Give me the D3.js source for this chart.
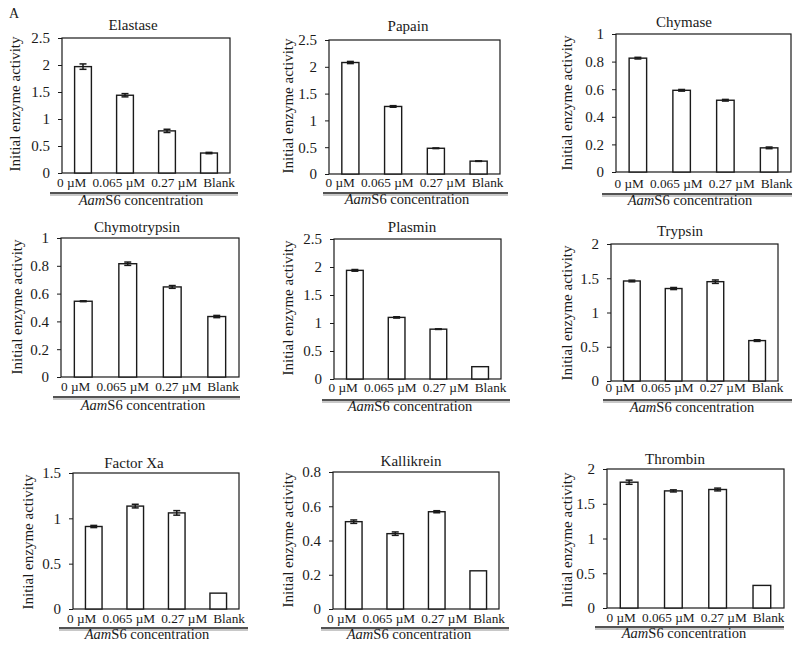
<!DOCTYPE html>
<html>
<head>
<meta charset="utf-8">
<script src="https://cdn.jsdelivr.net/npm/d3@7"></script>
<style>
  html, body { margin: 0; padding: 0; background: #fff; }
  svg { display: block; font-family: "Liberation Serif", "Times New Roman", serif; }
</style>
</head>
<body>
<svg id="chart" width="800" height="647"></svg>
<script>
// ---------- data ----------
const categories = ["0 \u00B5M", "0.065 \u00B5M", "0.27 \u00B5M", "Blank"];
const enzymes = ["Elastase", "Papain", "Chymase", "Chymotrypsin", "Plasmin", "Trypsin", "Factor Xa", "Kallikrein", "Thrombin"];

const elastase     = [1.97, 1.44, 0.78, 0.37];
const elastaseErr  = [0.05, 0.03, 0.03, 0.012];
const papain       = [2.08, 1.26, 0.48, 0.24];
const papainErr    = [0.02, 0.015, 0.006, 0.005];
const chymase      = [0.825, 0.592, 0.52, 0.175];
const chymaseErr   = [0.006, 0.006, 0.006, 0.006];
const chymotrypsin = [0.545, 0.815, 0.648, 0.435];
const chymotrypsinErr = [0.003, 0.012, 0.01, 0.008];
const plasmin      = [1.94, 1.10, 0.89, 0.22];
const plasminErr   = [0.015, 0.012, 0.005, 0];
const trypsin      = [1.46, 1.35, 1.45, 0.59];
const trypsinErr   = [0.012, 0.015, 0.025, 0.012];
const factorXa     = [0.91, 1.135, 1.06, 0.175];
const factorXaErr  = [0.012, 0.02, 0.025, 0];
const kallikrein   = [0.51, 0.44, 0.568, 0.223];
const kallikreinErr = [0.01, 0.01, 0.006, 0];
const thrombin     = [1.81, 1.685, 1.705, 0.325];
const thrombinErr  = [0.03, 0.015, 0.02, 0];

const yMaxes  = [2.5, 2.5, 1, 1, 2.5, 2, 1.5, 0.8, 2];
const yTickSteps = [0.5, 0.5, 0.2, 0.2, 0.5, 0.5, 0.5, 0.2, 0.5];
const yLabel = "Initial enzyme activity";

const seriesValues = [elastase, papain, chymase, chymotrypsin, plasmin, trypsin, factorXa, kallikrein, thrombin];
const seriesErrors = [elastaseErr, papainErr, chymaseErr, chymotrypsinErr, plasminErr, trypsinErr, factorXaErr, kallikreinErr, thrombinErr];

// ---------- layout (pixels) ----------
// box: left, right, top, bottom; title (cx, y); ylabel (x baseline, cy); catY; underline (y, x1, x2); axis title (cx, y)
const layouts = [
  {L:62,  R:230, T:38,  B:173, tx:133, ty:30,  lx:20,  ly:104, cy:187, uy:193, ux1:50,  ux2:238, ax:141, ay:205},
  {L:329, R:500, T:40,  B:174, tx:408, ty:31,  lx:293, ly:106, cy:187, uy:193, ux1:323, ux2:508, ax:407, ay:204},
  {L:616, R:791, T:34,  B:172, tx:684, ty:27,  lx:572, ly:103, cy:188, uy:194, ux1:602, ux2:792, ax:690, ay:205},
  {L:61,  R:239, T:238, B:377, tx:137, ty:232, lx:22,  ly:307, cy:391, uy:397, ux1:53,  ux2:240, ax:143, ay:410},
  {L:334, R:501, T:239, B:379, tx:412, ty:232, lx:293, ly:308, cy:392, uy:400, ux1:322, ux2:510, ax:410, ay:411},
  {L:611, R:778, T:244, B:381, tx:680, ty:236, lx:572, ly:313, cy:392, uy:400, ux1:603, ux2:792, ax:692, ay:412},
  {L:73,  R:239, T:473, B:609, tx:134, ty:468, lx:33,  ly:542, cy:623, uy:628, ux1:59,  ux2:248, ax:147, ay:639},
  {L:333, R:499, T:472, B:609, tx:411, ty:466, lx:293, ly:540, cy:623, uy:628, ux1:321, ux2:509, ax:409, ay:639},
  {L:607, R:784, T:469, B:608, tx:675, ty:464, lx:572, ly:540, cy:622, uy:627, ux1:595, ux2:784, ax:684, ay:638}
];

const svg = d3.select("#chart");
const ink = "#1a1a1a";

svg.append("text").attr("x", 9).attr("y", 18)
  .attr("font-size", 14).attr("fill", ink).text("A");

enzymes.forEach((name, i) => {
  const lay = layouts[i];
  const vals = seriesValues[i];
  const errs = seriesErrors[i];
  const g = svg.append("g");

  const x = d3.scaleBand().domain(categories).range([lay.L, lay.R])
    .paddingInner(0.6).paddingOuter(0.3);
  const y = d3.scaleLinear().domain([0, yMaxes[i]]).range([lay.B, lay.T]);

  // y axis
  const ticks = d3.range(0, yMaxes[i] + 1e-9, yTickSteps[i]);
  const yAxis = d3.axisLeft(y).tickValues(ticks).tickSize(4).tickPadding(8)
    .tickFormat(d => String(+d.toFixed(2)));
  const ya = g.append("g").attr("transform", `translate(${lay.L},0)`).call(yAxis);
  ya.select(".domain").remove();
  ya.selectAll(".tick line").attr("stroke", ink).attr("stroke-width", 1);
  ya.selectAll(".tick text").attr("font-size", 15).attr("fill", ink)
    .attr("font-family", "Liberation Serif, serif");

  // plot frame
  g.append("rect").attr("x", lay.L).attr("y", lay.T)
    .attr("width", lay.R - lay.L).attr("height", lay.B - lay.T)
    .attr("fill", "none").attr("stroke", ink).attr("stroke-width", 1.2);

  // bars
  g.selectAll("rect.bar").data(vals).join("rect").attr("class", "bar")
    .attr("x", (d, j) => x(categories[j]))
    .attr("width", x.bandwidth())
    .attr("y", d => y(d))
    .attr("height", d => lay.B - y(d))
    .attr("fill", "#fff").attr("stroke", ink).attr("stroke-width", 1.4);

  // error bars
  const cap = 3.5;
  vals.forEach((v, j) => {
    const e = errs[j];
    if (!e) return;
    const cx = x(categories[j]) + x.bandwidth() / 2;
    const eg = g.append("g").attr("stroke", ink).attr("stroke-width", 1.5);
    eg.append("line").attr("x1", cx).attr("x2", cx).attr("y1", y(v - e)).attr("y2", y(v + e));
    eg.append("line").attr("x1", cx - cap).attr("x2", cx + cap).attr("y1", y(v + e)).attr("y2", y(v + e));
    eg.append("line").attr("x1", cx - cap).attr("x2", cx + cap).attr("y1", y(v - e)).attr("y2", y(v - e));
  });

  // title
  g.append("text").attr("x", lay.tx).attr("y", lay.ty).attr("text-anchor", "middle")
    .attr("font-size", 15).attr("fill", ink).text(name);

  // y label
  g.append("text").attr("transform", `translate(${lay.lx},${lay.ly}) rotate(-90)`)
    .attr("text-anchor", "middle").attr("font-size", 15).attr("fill", ink).text(yLabel);

  // category labels: laid out in a row, centered on the plot
  const labels = g.selectAll("text.cat").data(categories).join("text").attr("class", "cat")
    .attr("y", lay.cy).attr("font-size", 13.3).attr("fill", ink).text(d => d);
  const widths = [];
  labels.each(function () { widths.push(this.getComputedTextLength()); });
  const gap = 6;
  const total = d3.sum(widths) + gap * (widths.length - 1);
  let pos = (lay.L + lay.R) / 2 - total / 2;
  labels.each(function (d, j) {
    const bandCenter = x(categories[j]) + x.bandwidth() / 2;
    d3.select(this).attr("x", pos);
    pos += widths[j] + gap;
  });

  // underline with soft shadow
  g.append("line").attr("x1", lay.ux1).attr("x2", lay.ux2).attr("y1", lay.uy + 2).attr("y2", lay.uy + 2)
    .attr("stroke", "#c8c8c8").attr("stroke-width", 2);
  g.append("line").attr("x1", lay.ux1).attr("x2", lay.ux2).attr("y1", lay.uy).attr("y2", lay.uy)
    .attr("stroke", ink).attr("stroke-width", 1.5);

  // axis title
  const at = g.append("text").attr("x", lay.ax).attr("y", lay.ay).attr("text-anchor", "middle")
    .attr("font-size", 14.5).attr("fill", ink);
  at.append("tspan").attr("font-style", "italic").text("Aam");
  at.append("tspan").text("S6 concentration");
});
</script>
</body>
</html>
